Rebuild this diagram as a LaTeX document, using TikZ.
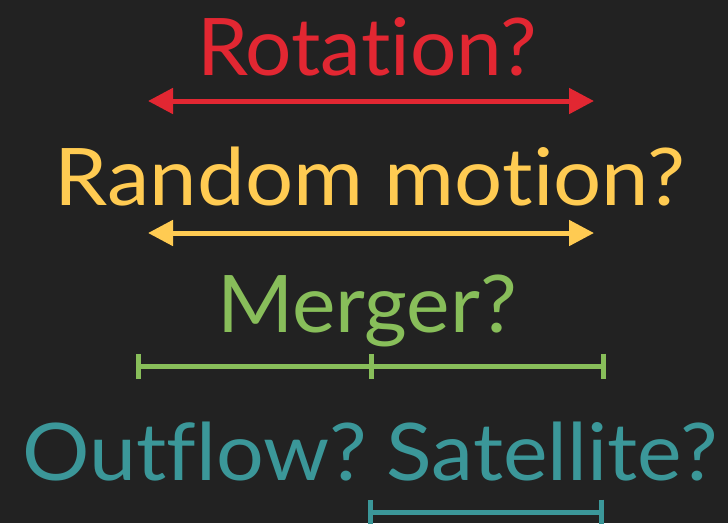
\documentclass[tikz,border=0pt]{standalone}
\usepackage{fontspec}
\setmainfont{Lato}[Ligatures={NoCommon,NoContextual}]
\usetikzlibrary{arrows.meta}

\definecolor{bgdark}{HTML}{222222}
\definecolor{rotred}{HTML}{E22732}
\definecolor{randyellow}{HTML}{FFCB52}
\definecolor{mergegreen}{HTML}{88BE5A}
\definecolor{outteal}{HTML}{3B9799}

\begin{document}
\begin{tikzpicture}[x=1pt, y=-1pt,
    label/.style={anchor=base, inner sep=0pt, font=\fontsize{79.5}{90}\selectfont},
    twoway/.style={line width=5pt, {Triangle[length=25pt, width=25pt]}-{Triangle[length=25pt, width=25pt]}},
    span/.style={line width=5pt, {Bar[width=25pt]}-{Bar[width=25pt]}}]
    \useasboundingbox (0,0) rectangle (728,523);
    \fill[bgdark] (0,0) rectangle (728,523);

    \node[label, text=rotred] (rotation) at (367,75) {\scalebox{1.03}[1]{Rotation?}};
    \coordinate (rotL) at (148,101);
    \coordinate (rotR) at (594,101);
    \draw[twoway, rotred] (rotL) -- (rotR);

    \node[label, text=randyellow] (random) at (370,205) {\scalebox{1.07}[1]{Random motion?}};
    \coordinate (randL) at (148,233);
    \coordinate (randR) at (594,233);
    \draw[twoway, randyellow] (randL) -- (randR);

    \node[label, text=mergegreen] (merger) at (367,332) {\scalebox{1.035}[1]{Merger?}};
    \coordinate (mergeL) at (136,366);
    \coordinate (mergeM) at (371,366);
    \coordinate (mergeR) at (606,366);
    \draw[span, mergegreen] (mergeL) -- (mergeR);
    \draw[line width=5pt, mergegreen] ([yshift=-12.5pt]mergeM) -- ([yshift=12.5pt]mergeM);

    \node[label, text=outteal] (outsat) at (370,480) {\scalebox{1.06}[1]{Outflow?\hspace{-9pt} Satellite?}};
    \coordinate (satL) at (368,512);
    \coordinate (satR) at (604,512);
    \draw[span, outteal] (satL) -- (satR);
  \end{tikzpicture}
\end{document}
